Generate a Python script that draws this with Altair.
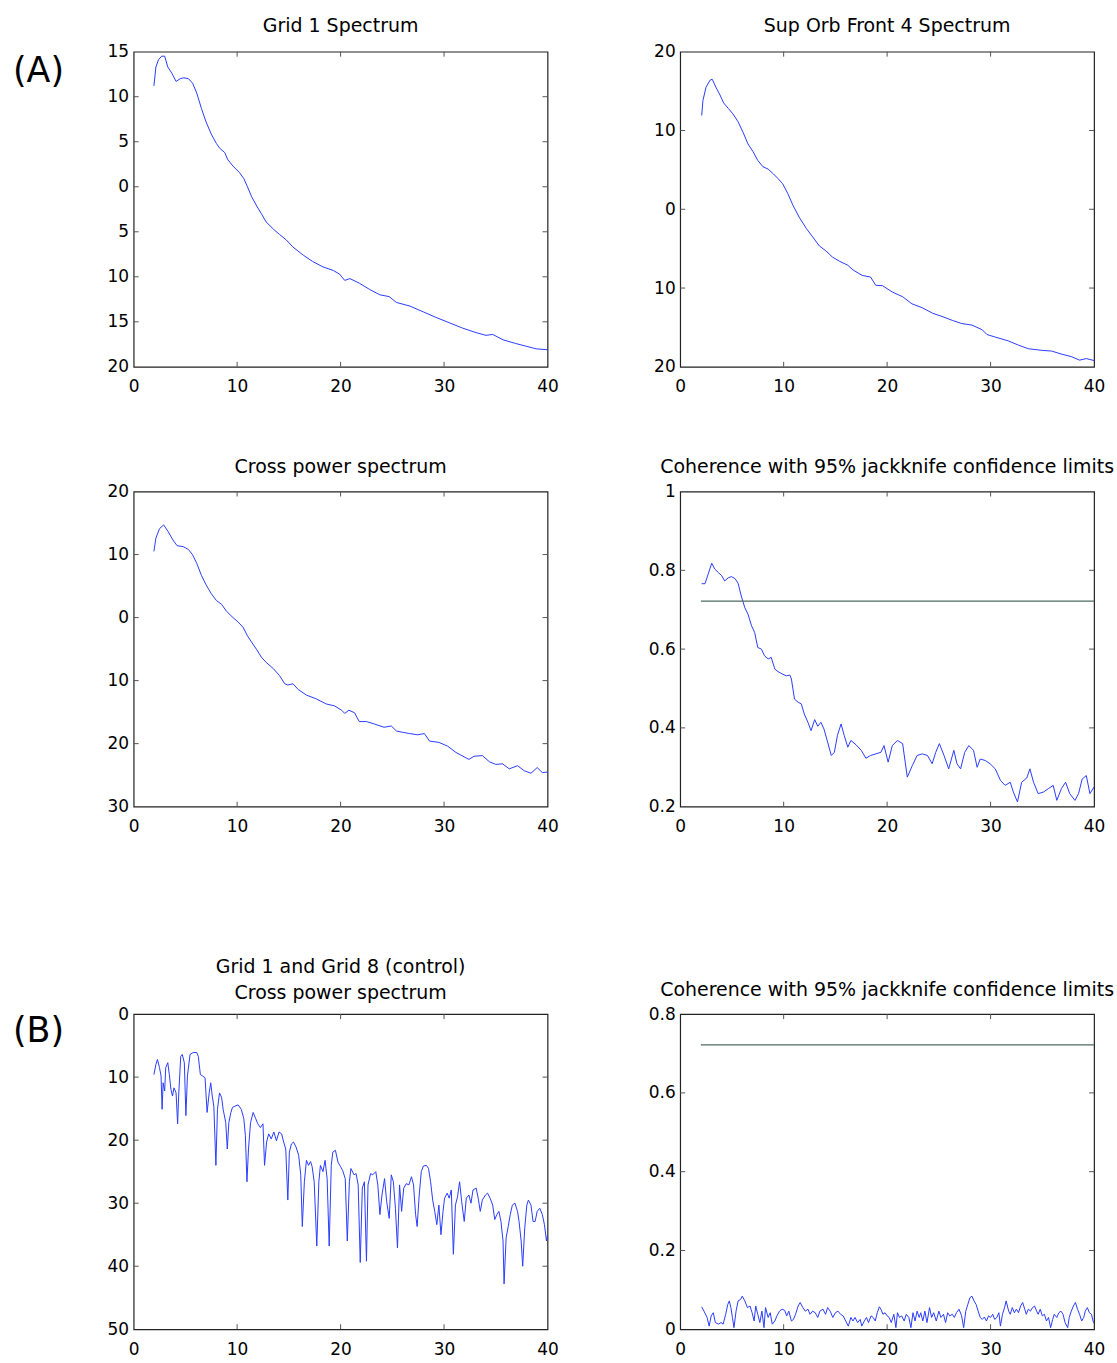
import altair as alt
import pandas as pd

# ---------------- data ----------------
X_TICKS = [0, 10, 20, 30, 40]

TITLES = [
    "Grid 1 Spectrum",
    "Sup Orb Front 4 Spectrum",
    "Cross power spectrum",
    "Coherence with 95% jackknife confidence limits",
    ["Grid 1 and Grid 8 (control)", "Cross power spectrum"],
    "Coherence with 95% jackknife confidence limits",
]
PANEL_TAGS = ["(A)", "(B)"]

# Panel 1: Grid 1 Spectrum
f1 = [1.96, 2.15, 2.4, 2.7, 3.0, 3.3, 3.7, 4.1, 4.5, 4.85,
      5.3, 5.7, 6.1, 6.55, 7.0, 7.5, 8.0, 8.3, 8.8, 9.1,
      9.6, 10.25, 10.65, 11.0, 11.4, 11.9, 12.35, 12.8, 13.5, 14.1,
      14.75, 15.4, 16.4, 17.3, 18.3, 19.3, 19.9, 20.4, 20.9, 21.8,
      22.8, 23.8, 24.7, 25.4, 26.7, 28.0, 29.2, 30.5, 31.8, 33.1,
      34.05, 34.7, 35.7, 36.9, 37.9, 38.9, 40.0]
v1 = [11.2, 13.3, 14.1, 14.5, 14.5, 13.3, 12.6, 11.7, 12.0, 12.1,
      12.0, 11.5, 10.4, 8.7, 7.2, 5.85, 4.8, 4.3, 3.8, 3.0,
      2.3, 1.55, 0.9, 0.0, -1.1, -2.15, -3.0, -3.9, -4.7, -5.3,
      -5.9, -6.7, -7.6, -8.3, -8.9, -9.3, -9.7, -10.4, -10.2, -10.7,
      -11.4, -12.0, -12.2, -12.85, -13.25, -13.9, -14.5, -15.1, -15.7, -16.2,
      -16.5, -16.4, -17.0, -17.4, -17.7, -18.0, -18.1]

# Panel 2: Sup Orb Front 4 Spectrum
f2 = [2.08, 2.2, 2.5, 2.9, 3.1, 3.45, 3.85, 4.2, 4.65, 5.1,
      5.6, 6.1, 6.55, 7.05, 7.5, 8.0, 8.5, 9.0, 9.45, 9.9,
      10.4, 10.9, 11.5, 12.2, 12.8, 13.45, 14.1, 14.7, 15.4, 16.2,
      16.7, 17.6, 18.4, 18.9, 19.55, 20.5, 21.5, 22.4, 23.4, 24.4,
      25.3, 26.3, 27.2, 28.2, 29.2, 29.65, 30.4, 31.7, 32.7, 33.65,
      34.9, 35.9, 36.9, 37.8, 38.6, 39.25, 40.0]
v2 = [11.9, 13.8, 15.5, 16.4, 16.5, 15.5, 14.5, 13.5, 12.8, 12.1,
      11.1, 9.7, 8.3, 7.3, 6.2, 5.4, 5.1, 4.5, 3.9, 3.25,
      2.0, 0.5, -1.0, -2.45, -3.5, -4.65, -5.3, -6.05, -6.6, -7.1,
      -7.7, -8.4, -8.6, -9.65, -9.7, -10.5, -11.1, -12.0, -12.5, -13.2,
      -13.6, -14.1, -14.5, -14.7, -15.3, -15.9, -16.2, -16.7, -17.25, -17.7,
      -17.9, -18.0, -18.4, -18.7, -19.15, -18.95, -19.2]

# Panel 3: Cross power spectrum
f3 = [1.96, 2.15, 2.5, 2.9, 3.35, 3.8, 4.2, 4.8, 5.3, 5.7,
      6.1, 6.55, 7.0, 7.5, 8.0, 8.5, 8.95, 9.6, 10.1, 10.6,
      11.0, 11.4, 11.9, 12.35, 12.8, 13.5, 14.1, 14.6, 14.9, 15.4,
      15.9, 16.7, 17.65, 18.6, 19.4, 20.1, 20.4, 20.8, 21.35, 21.8,
      22.5, 23.3, 24.2, 24.9, 25.4, 26.0, 26.65, 27.45, 28.1, 28.6,
      29.5, 30.35, 31.15, 32.4, 32.9, 33.7, 34.4, 35.0, 35.65, 36.3,
      37.1, 37.75, 38.4, 39.0, 39.5, 40.0]
v3 = [10.5, 12.6, 14.1, 14.7, 13.6, 12.3, 11.4, 11.25, 10.8, 9.95,
      8.6, 6.7, 5.2, 3.8, 2.7, 2.1, 1.05, 0.0, -0.7, -1.6,
      -2.9, -3.9, -5.1, -6.3, -7.1, -8.1, -9.2, -10.5, -10.7, -10.5,
      -11.4, -12.3, -12.9, -13.7, -14.0, -14.7, -15.2, -14.7, -15.1, -16.5,
      -16.5, -16.9, -17.4, -17.2, -18.0, -18.2, -18.4, -18.6, -18.4, -19.6,
      -19.8, -20.4, -21.4, -22.5, -22.0, -21.9, -22.9, -23.3, -23.2, -24.0,
      -23.5, -24.3, -24.7, -23.8, -24.6, -24.5]

# Panel 4: Coherence (A)
f4 = [2.08, 2.4, 2.7, 3.05, 3.35, 3.7, 4.0, 4.3, 4.65, 4.95,
      5.3, 5.6, 5.9, 6.25, 6.55, 6.9, 7.2, 7.5, 7.85, 8.15,
      8.5, 8.8, 9.15, 9.45, 9.85, 10.25, 10.6, 10.75, 11.05, 11.4,
      11.7, 12.0, 12.35, 12.65, 13.0, 13.3, 13.6, 13.9, 14.25, 14.6,
      14.9, 15.2, 15.55, 15.85, 16.2, 16.5, 17.0, 17.5, 17.95, 18.4,
      18.9, 19.4, 19.7, 20.1, 20.5, 21.0, 21.5, 21.95, 22.45, 22.9,
      23.4, 23.9, 24.35, 24.7, 25.05, 25.5, 25.95, 26.45, 26.75, 27.1,
      27.5, 27.9, 28.35, 28.7, 29.0, 29.5, 29.95, 30.45, 30.95, 31.4,
      31.9, 32.2, 32.6, 33.0, 33.5, 33.8, 34.15, 34.6, 35.1, 35.6,
      36.05, 36.4, 36.85, 37.25, 37.65, 38.15, 38.5, 38.85, 39.25, 39.6,
      40.0]
v4 = [0.766, 0.766, 0.79, 0.818, 0.803, 0.794, 0.787, 0.773, 0.781, 0.784,
      0.779, 0.767, 0.735, 0.705, 0.689, 0.659, 0.642, 0.604, 0.6, 0.583,
      0.575, 0.579, 0.549, 0.543, 0.537, 0.532, 0.534, 0.524, 0.473, 0.465,
      0.461, 0.435, 0.414, 0.393, 0.421, 0.404, 0.414, 0.397, 0.364, 0.33,
      0.338, 0.381, 0.41, 0.381, 0.351, 0.368, 0.357, 0.343, 0.323, 0.33,
      0.334, 0.338, 0.355, 0.313, 0.355, 0.368, 0.36, 0.275, 0.305, 0.33,
      0.334, 0.33, 0.309, 0.338, 0.36, 0.33, 0.296, 0.343, 0.309, 0.296,
      0.338, 0.355, 0.343, 0.3, 0.321, 0.317, 0.309, 0.296, 0.267, 0.254,
      0.262, 0.237, 0.212, 0.262, 0.273, 0.296, 0.262, 0.233, 0.237, 0.246,
      0.254, 0.216, 0.246, 0.262, 0.233, 0.216, 0.233, 0.27, 0.279, 0.233,
      0.25]

# Panel 5: Grid 1 and Grid 8 (control) cross power spectrum
f5 = [1.96, 2.15, 2.3, 2.5, 2.65, 2.75, 2.85, 3.0, 3.1, 3.3,
      3.45, 3.6, 3.75, 3.9, 4.1, 4.25, 4.35, 4.55, 4.7, 4.9,
      5.05, 5.2, 5.45, 5.75, 6.1, 6.25, 6.45, 6.65, 6.9, 7.1,
      7.3, 7.45, 7.6, 7.75, 7.95, 8.1, 8.3, 8.5, 8.65, 8.9,
      9.05, 9.2, 9.4, 9.55, 9.8, 10.1, 10.4, 10.65, 10.8, 10.95,
      11.1, 11.3, 11.55, 11.8, 12.0, 12.25, 12.5, 12.65, 12.85, 13.05,
      13.3, 13.55, 13.8, 14.05, 14.3, 14.5, 14.7, 14.9, 15.05, 15.25,
      15.45, 15.7, 15.95, 16.15, 16.3, 16.5, 16.7, 16.9, 17.1, 17.25,
      17.45, 17.7, 17.9, 18.05, 18.3, 18.5, 18.7, 18.9, 19.1, 19.25,
      19.5, 19.75, 20.0, 20.2, 20.45, 20.65, 20.85, 21.0, 21.3, 21.5,
      21.7, 21.9, 22.1, 22.3, 22.5, 22.65, 22.9, 23.1, 23.4, 23.6,
      23.8, 24.0, 24.25, 24.45, 24.7, 24.9, 25.1, 25.3, 25.5, 25.7,
      25.9, 26.1, 26.35, 26.6, 26.85, 27.05, 27.25, 27.4, 27.6, 27.8,
      28.0, 28.3, 28.5, 28.7, 28.9, 29.1, 29.3, 29.5, 29.7, 29.9,
      30.05, 30.3, 30.5, 30.7, 30.9, 31.1, 31.3, 31.5, 31.7, 31.95,
      32.15, 32.4, 32.6, 32.8, 33.1, 33.3, 33.5, 33.7, 34.0, 34.2,
      34.45, 34.7, 34.9, 35.1, 35.3, 35.5, 35.7, 35.8, 36.0, 36.2,
      36.4, 36.6, 36.85, 37.1, 37.25, 37.45, 37.6, 37.8, 38.0, 38.15,
      38.4, 38.6, 38.8, 39.0, 39.25, 39.5, 39.7, 39.9, 40.0]
v5 = [-9.6, -8.0, -7.2, -8.5, -9.8, -15.1, -10.9, -12.2, -8.5, -7.7,
      -9.6, -11.9, -13.0, -11.7, -12.5, -17.4, -13.0, -6.7, -6.4, -7.7,
      -16.1, -9.8, -6.4, -6.1, -6.1, -6.7, -9.6, -9.8, -10.1, -15.6,
      -12.5, -10.9, -13.0, -14.6, -24.0, -15.1, -12.5, -13.2, -15.1, -17.2,
      -21.4, -17.2, -15.6, -14.8, -14.6, -14.4, -15.1, -16.6, -19.3, -26.6,
      -21.4, -17.2, -15.6, -16.6, -17.4, -18.0, -17.4, -24.0, -20.3, -19.0,
      -19.8, -18.7, -20.1, -18.7, -19.0, -20.3, -21.4, -29.5, -21.9, -20.6,
      -20.3, -21.1, -22.4, -25.5, -33.7, -26.6, -23.2, -24.0, -23.4, -24.2,
      -26.6, -36.8, -26.6, -24.0, -25.0, -23.2, -26.1, -36.8, -24.0, -21.9,
      -21.6, -23.5, -24.2, -24.8, -26.1, -36.0, -26.6, -24.5, -25.5, -25.3,
      -27.1, -39.4, -27.6, -26.6, -39.2, -27.1, -25.3, -25.5, -25.0, -27.1,
      -31.8, -28.7, -26.1, -29.7, -32.4, -25.5, -26.6, -30.8, -37.1, -27.1,
      -31.3, -27.6, -26.9, -27.1, -25.8, -27.1, -31.8, -33.7, -28.7, -25.0,
      -24.1, -24.0, -24.5, -26.6, -29.5, -31.3, -33.4, -30.3, -35.0, -31.3,
      -29.2, -28.4, -29.2, -27.9, -38.1, -30.3, -29.0, -26.6, -29.7, -32.9,
      -29.2, -28.7, -30.0, -27.9, -27.6, -29.2, -31.3, -29.5, -28.7, -28.4,
      -29.2, -30.3, -32.6, -31.8, -31.3, -32.9, -36.0, -42.8, -35.5, -33.7,
      -31.8, -30.3, -30.0, -31.3, -32.9, -36.0, -40.0, -33.9, -30.3, -29.5,
      -30.3, -32.9, -32.9, -31.3, -30.8, -31.8, -33.4, -36.0, -35.0]

# Panel 6: Coherence (B, control)
f6 = [2.08, 2.3, 2.6, 2.8, 3.0, 3.2, 3.4, 3.7, 3.95, 4.15,
      4.4, 4.6, 4.75, 4.9, 5.05, 5.2, 5.4, 5.6, 5.85, 6.0,
      6.25, 6.5, 6.75, 6.95, 7.15, 7.3, 7.5, 7.7, 7.9, 8.1,
      8.25, 8.5, 8.7, 8.9, 9.15, 9.35, 9.6, 9.85, 10.1, 10.3,
      10.5, 10.75, 10.95, 11.15, 11.4, 11.6, 11.85, 12.1, 12.35, 12.55,
      12.8, 13.05, 13.3, 13.5, 13.8, 14.05, 14.25, 14.5, 14.75, 15.0,
      15.25, 15.5, 15.75, 16.0, 16.25, 16.5, 16.7, 16.9, 17.15, 17.4,
      17.55, 17.8, 18.0, 18.2, 18.45, 18.65, 18.85, 19.05, 19.25, 19.4,
      19.6, 19.8, 20.0, 20.2, 20.4, 20.65, 20.85, 21.0, 21.2, 21.4,
      21.65, 21.85, 22.1, 22.3, 22.5, 22.7, 22.9, 23.1, 23.25, 23.45,
      23.65, 23.85, 24.1, 24.3, 24.5, 24.75, 25.0, 25.2, 25.45, 25.65,
      25.85, 26.05, 26.3, 26.5, 26.7, 26.95, 27.2, 27.4, 27.6, 27.8,
      28.0, 28.2, 28.4, 28.6, 28.8, 29.0, 29.2, 29.4, 29.6, 29.8,
      30.0, 30.2, 30.4, 30.6, 30.8, 30.95, 31.15, 31.35, 31.5, 31.75,
      31.9, 32.1, 32.3, 32.5, 32.7, 32.9, 33.1, 33.3, 33.45, 33.65,
      33.85, 34.05, 34.25, 34.45, 34.6, 34.8, 35.0, 35.2, 35.4, 35.6,
      35.8, 36.0, 36.15, 36.4, 36.6, 36.8, 37.0, 37.2, 37.45, 37.6,
      37.8, 38.0, 38.2, 38.4, 38.6, 38.8, 39.0, 39.15, 39.35, 39.55,
      39.75, 39.9, 40.0]
v6 = [0.057, 0.046, 0.03, 0.008, 0.034, 0.042, 0.017, 0.013, 0.017, 0.013,
      0.038, 0.063, 0.072, 0.055, 0.03, 0.004, 0.046, 0.072, 0.076, 0.084,
      0.072, 0.055, 0.059, 0.042, 0.021, 0.059, 0.038, 0.017, 0.046, 0.004,
      0.055, 0.03, 0.042, 0.013, 0.021, 0.034, 0.046, 0.051, 0.048, 0.034,
      0.046, 0.021, 0.025, 0.038, 0.059, 0.068, 0.055, 0.046, 0.051, 0.038,
      0.046, 0.042, 0.03, 0.046, 0.051, 0.038, 0.055, 0.046, 0.03, 0.042,
      0.046, 0.038, 0.034, 0.021, 0.008, 0.03, 0.021, 0.03, 0.017, 0.025,
      0.008, 0.021, 0.03, 0.017, 0.034, 0.03, 0.021, 0.042, 0.057, 0.051,
      0.038, 0.042, 0.034, 0.03, 0.017, 0.038, 0.004, 0.042, 0.03, 0.034,
      0.021, 0.038, 0.03, 0.004, 0.042, 0.021, 0.046, 0.03, 0.042, 0.021,
      0.046, 0.017, 0.055, 0.03, 0.042, 0.021, 0.046, 0.03, 0.038, 0.017,
      0.042, 0.034, 0.038, 0.03, 0.042, 0.051, 0.034, 0.004, 0.046, 0.063,
      0.08, 0.084, 0.072, 0.063, 0.046, 0.03, 0.025, 0.031, 0.021, 0.034,
      0.03, 0.038, 0.025, 0.03, 0.042, 0.008, 0.038, 0.055, 0.072, 0.046,
      0.038, 0.055, 0.042, 0.051, 0.042, 0.059, 0.068, 0.051, 0.038, 0.051,
      0.046, 0.055, 0.059, 0.046, 0.038, 0.051, 0.034, 0.038, 0.021, 0.03,
      0.004, 0.025, 0.038, 0.03, 0.042, 0.046, 0.038, 0.017, 0.004, 0.03,
      0.046, 0.059, 0.068, 0.051, 0.038, 0.021, 0.03, 0.046, 0.055, 0.042,
      0.038, 0.021, 0.015]

CONF_LEVEL = 0.722      # 95% jackknife confidence limit line
CONF_RANGE = [2.0, 40.0]

Y1_TICKS = [-20, -15, -10, -5, 0, 5, 10, 15]
Y2_TICKS = [-20, -10, 0, 10, 20]
Y3_TICKS = [-30, -20, -10, 0, 10, 20]
Y4_TICKS = [0.2, 0.4, 0.6, 0.8, 1.0]
Y5_TICKS = [-50, -40, -30, -20, -10, 0]
Y6_TICKS = [0, 0.2, 0.4, 0.6, 0.8]

# ---------------- styling ----------------
W, H = 415, 316
BLUE = "#2a3cff"
CONF_COLOR = "#4f6b5f"
TICK_COLOR = "#555555"
FONT = "DejaVu Sans"


def panel(freq, vals, ydom, yticks, title, conf=False, tag=None, tag_y=0, title_offset=6):
    df = pd.DataFrame({"f": freq, "v": vals})
    xenc = alt.X("f:Q", scale=alt.Scale(domain=[0, 40], nice=False, zero=False),
                 axis=alt.Axis(values=X_TICKS, title=None, labelPadding=12))
    yenc = alt.Y("v:Q", scale=alt.Scale(domain=ydom, nice=False, zero=False),
                 axis=alt.Axis(values=yticks, title=None, labelPadding=5,
                               labelExpr="format(abs(datum.value), '')"))
    layers = [alt.Chart(df).mark_line(color=BLUE, strokeWidth=1, clip=True)
              .encode(x=xenc, y=yenc)]
    if conf:
        cdf = pd.DataFrame({"f": CONF_RANGE, "v": [CONF_LEVEL, CONF_LEVEL]})
        layers.append(alt.Chart(cdf).mark_line(color=CONF_COLOR, strokeWidth=1.3)
                      .encode(x=xenc, y=yenc))
    xt = pd.DataFrame({"f": X_TICKS[1:-1]})
    yt = pd.DataFrame({"v": [t for t in yticks if ydom[0] < t < ydom[1]]})
    tk = dict(color=TICK_COLOR, strokeWidth=1)
    layers += [
        alt.Chart(xt).mark_rule(**tk).encode(x=xenc, y=alt.value(H), y2=alt.value(H - 5)),
        alt.Chart(xt).mark_rule(**tk).encode(x=xenc, y=alt.value(0), y2=alt.value(5)),
        alt.Chart(yt).mark_rule(**tk).encode(y=yenc, x=alt.value(0), x2=alt.value(5)),
        alt.Chart(yt).mark_rule(**tk).encode(y=yenc, x=alt.value(W), x2=alt.value(W - 5)),
    ]
    if tag is not None:
        tdf = pd.DataFrame({"t": [tag]})
        layers.append(alt.Chart(tdf).mark_text(font=FONT, fontSize=35, align="left",
                                               baseline="middle", color="black")
                      .encode(text="t:N", x=alt.value(-121), y=alt.value(tag_y)))
    return alt.layer(*layers).properties(
        width=W, height=H,
        title=alt.TitleParams(text=title, lineHeight=26, offset=title_offset),
    )


p1 = panel(f1, v1, [-20, 15], Y1_TICKS, TITLES[0], tag=PANEL_TAGS[0], tag_y=19, title_offset=7)
p2 = panel(f2, v2, [-20, 20], Y2_TICKS, TITLES[1], title_offset=7)
p3 = panel(f3, v3, [-30, 20], Y3_TICKS, TITLES[2], title_offset=6)
p4 = panel(f4, v4, [0.2, 1.0], Y4_TICKS, TITLES[3], conf=True, title_offset=6)
p5 = panel(f5, v5, [-50, 0], Y5_TICKS, TITLES[4], tag=PANEL_TAGS[1], tag_y=17, title_offset=2)
p6 = panel(f6, v6, [0, 0.8], Y6_TICKS, TITLES[5], conf=True, title_offset=5)


def spacer(h):
    return alt.Chart(pd.DataFrame({"a": [0]})).mark_point(opacity=0).encode(
        x=alt.value(0), y=alt.value(0)
    ).properties(width=W, height=h, view=alt.ViewBackground(strokeOpacity=0))


s1 = spacer(125)
s2 = spacer(208)

chart = alt.concat(
    p1, p2, s1, s1, p3, p4, s2, s2, p5, p6,
    columns=2, spacing={"row": 0, "column": 133}, bounds="flush", align="each",
).properties(
    padding={"left": 12, "top": 14, "right": 2, "bottom": 5},
    background="white",
).configure_view(
    stroke="#222222", strokeWidth=1.2
).configure_axis(
    labelFont=FONT, labelFontSize=17, labelColor="black",
    domain=False, ticks=False, grid=False,
    labelOverlap=False, labelFlush=False, labelBound=False,
).configure_title(
    font=FONT, fontSize=19, fontWeight="normal", color="black",
    baseline="bottom", anchor="middle",
)

chart.save("out.html", embed_options={"renderer": "svg", "actions": False})
